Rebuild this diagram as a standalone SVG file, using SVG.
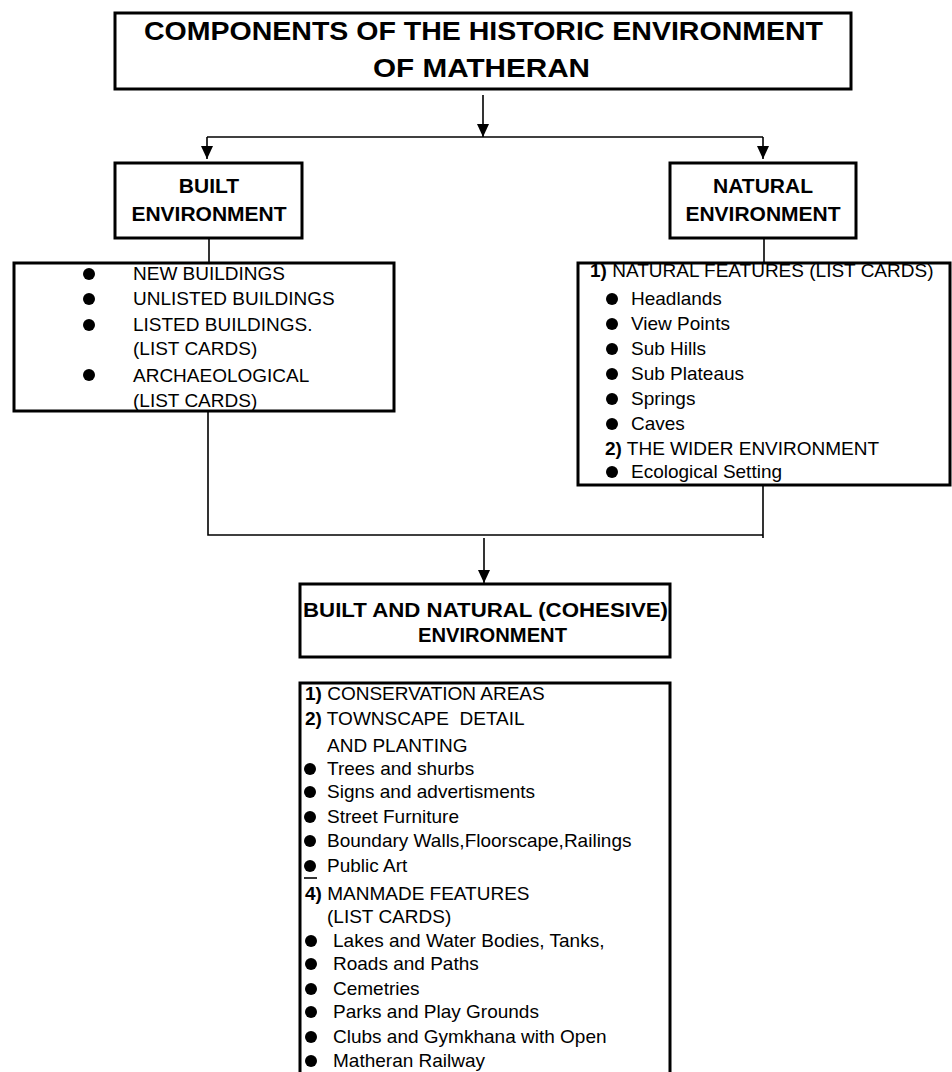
<svg xmlns="http://www.w3.org/2000/svg" width="952" height="1072" viewBox="0 0 952 1072">
<style>
.box{fill:#fff;stroke:#000;stroke-width:3}
.ln{fill:none;stroke:#000;stroke-width:1.6}
.t{font-family:"Liberation Sans",Arial,sans-serif;fill:#000}
.h{font-weight:bold}
.s{font-size:19px}
.b{font-weight:bold}
.dot{fill:#000}
</style>
<defs>
<marker id="ah" viewBox="0 0 13 12" refX="13" refY="6" markerWidth="13" markerHeight="12" markerUnits="userSpaceOnUse" orient="auto">
<path d="M0,0 L13,6 L0,12 z" fill="#000"/>
</marker>
</defs>
<rect width="952" height="1072" fill="#fff"/>

<g id="connectors">
<line class="ln" x1="483" y1="95" x2="483" y2="137" marker-end="url(#ah)"/>
<line class="ln" x1="207" y1="137" x2="763" y2="137"/>
<line class="ln" x1="207" y1="137" x2="207" y2="159" marker-end="url(#ah)"/>
<line class="ln" x1="763" y1="137" x2="763" y2="159" marker-end="url(#ah)"/>
<line class="ln" x1="209" y1="238" x2="209" y2="263"/>
<line class="ln" x1="764" y1="238" x2="764" y2="263"/>
<polyline class="ln" points="208,411 208,535 763,535"/>
<line class="ln" x1="763" y1="485" x2="763" y2="538"/>
<line class="ln" x1="484" y1="538" x2="484" y2="583" marker-end="url(#ah)"/>
</g>

<g id="title">
<rect class="box" x="115" y="13" width="736" height="76"/>
<text class="t h" x="144" y="40" font-size="25" textLength="679" lengthAdjust="spacingAndGlyphs">COMPONENTS OF THE HISTORIC ENVIRONMENT</text>
<text class="t h" x="373" y="77" font-size="25" textLength="217" lengthAdjust="spacingAndGlyphs">OF MATHERAN</text>
</g>

<g id="built">
<rect class="box" x="115" y="163" width="187" height="75"/>
<text class="t h" x="209" y="193" font-size="21" text-anchor="middle">BUILT</text>
<text class="t h" x="209" y="221" font-size="21" text-anchor="middle">ENVIRONMENT</text>
</g>

<g id="natural">
<rect class="box" x="670" y="163" width="186" height="75"/>
<text class="t h" x="763" y="193" font-size="21" text-anchor="middle">NATURAL</text>
<text class="t h" x="763" y="221" font-size="21" text-anchor="middle">ENVIRONMENT</text>
</g>

<g id="built-list">
<rect class="box" x="14" y="263" width="380" height="148"/>
<circle class="dot" cx="89" cy="274" r="6"/>
<text class="t s" x="133" y="280">NEW BUILDINGS</text>
<circle class="dot" cx="89" cy="299" r="6"/>
<text class="t s" x="133" y="305">UNLISTED BUILDINGS</text>
<circle class="dot" cx="89" cy="325" r="6"/>
<text class="t s" x="133" y="331">LISTED BUILDINGS.</text>
<text class="t s" x="133" y="355">(LIST CARDS)</text>
<circle class="dot" cx="89" cy="375" r="6"/>
<text class="t s" x="133" y="382">ARCHAEOLOGICAL</text>
<text class="t s" x="133" y="407">(LIST CARDS)</text>
</g>

<g id="natural-list">
<rect class="box" x="578" y="263" width="372" height="222"/>
<text class="t s" x="590" y="277"><tspan class="b">1)</tspan> NATURAL FEATURES (LIST CARDS)</text>
<circle class="dot" cx="612" cy="299" r="6"/>
<text class="t s" x="631" y="305">Headlands</text>
<circle class="dot" cx="612" cy="324" r="6"/>
<text class="t s" x="631" y="330">View Points</text>
<circle class="dot" cx="612" cy="349" r="6"/>
<text class="t s" x="631" y="355">Sub Hills</text>
<circle class="dot" cx="612" cy="374" r="6"/>
<text class="t s" x="631" y="380">Sub Plateaus</text>
<circle class="dot" cx="612" cy="399" r="6"/>
<text class="t s" x="631" y="405">Springs</text>
<circle class="dot" cx="612" cy="424" r="6"/>
<text class="t s" x="631" y="430">Caves</text>
<text class="t s" x="605" y="455"><tspan class="b">2)</tspan> THE WIDER ENVIRONMENT</text>
<circle class="dot" cx="612" cy="472" r="6"/>
<text class="t s" x="631" y="478">Ecological Setting</text>
</g>

<g id="cohesive">
<rect class="box" x="300" y="584" width="370" height="73"/>
<text class="t h" x="303" y="617" font-size="20" textLength="365" lengthAdjust="spacingAndGlyphs">BUILT AND NATURAL (COHESIVE)</text>
<text class="t h" x="418" y="642" font-size="20" textLength="149" lengthAdjust="spacingAndGlyphs">ENVIRONMENT</text>
</g>

<g id="cohesive-list">
<path class="box" d="M300,1080 V683 H670 V1080"/>
<text class="t s" x="305" y="700"><tspan class="b">1)</tspan> CONSERVATION AREAS</text>
<text class="t s" x="305" y="725"><tspan class="b">2)</tspan> TOWNSCAPE&#160; DETAIL</text>
<text class="t s" x="327" y="752">AND PLANTING</text>
<circle class="dot" cx="310" cy="769" r="6"/>
<text class="t s" x="327" y="775">Trees and shurbs</text>
<circle class="dot" cx="310" cy="792" r="6"/>
<text class="t s" x="327" y="798">Signs and advertisments</text>
<circle class="dot" cx="310" cy="817" r="6"/>
<text class="t s" x="327" y="823">Street Furniture</text>
<circle class="dot" cx="310" cy="841" r="6"/>
<text class="t s" x="327" y="847">Boundary Walls,Floorscape,Railings</text>
<circle class="dot" cx="310" cy="866" r="6"/>
<line class="ln" x1="304" y1="878" x2="317" y2="878" stroke-width="2"/>
<text class="t s" x="327" y="872">Public Art</text>
<text class="t s" x="305" y="900"><tspan class="b">4)</tspan> MANMADE FEATURES</text>
<text class="t s" x="327" y="923">(LIST CARDS)</text>
<circle class="dot" cx="311" cy="941" r="6"/>
<text class="t s" x="333" y="947">Lakes and Water Bodies, Tanks,</text>
<circle class="dot" cx="311" cy="964" r="6"/>
<text class="t s" x="333" y="970">Roads and Paths</text>
<circle class="dot" cx="311" cy="989" r="6"/>
<text class="t s" x="333" y="995">Cemetries</text>
<circle class="dot" cx="311" cy="1012" r="6"/>
<text class="t s" x="333" y="1018">Parks and Play Grounds</text>
<circle class="dot" cx="311" cy="1037" r="6"/>
<text class="t s" x="333" y="1043">Clubs and Gymkhana with Open</text>
<circle class="dot" cx="311" cy="1061" r="6"/>
<text class="t s" x="333" y="1067">Matheran Railway</text>
</g>
</svg>
